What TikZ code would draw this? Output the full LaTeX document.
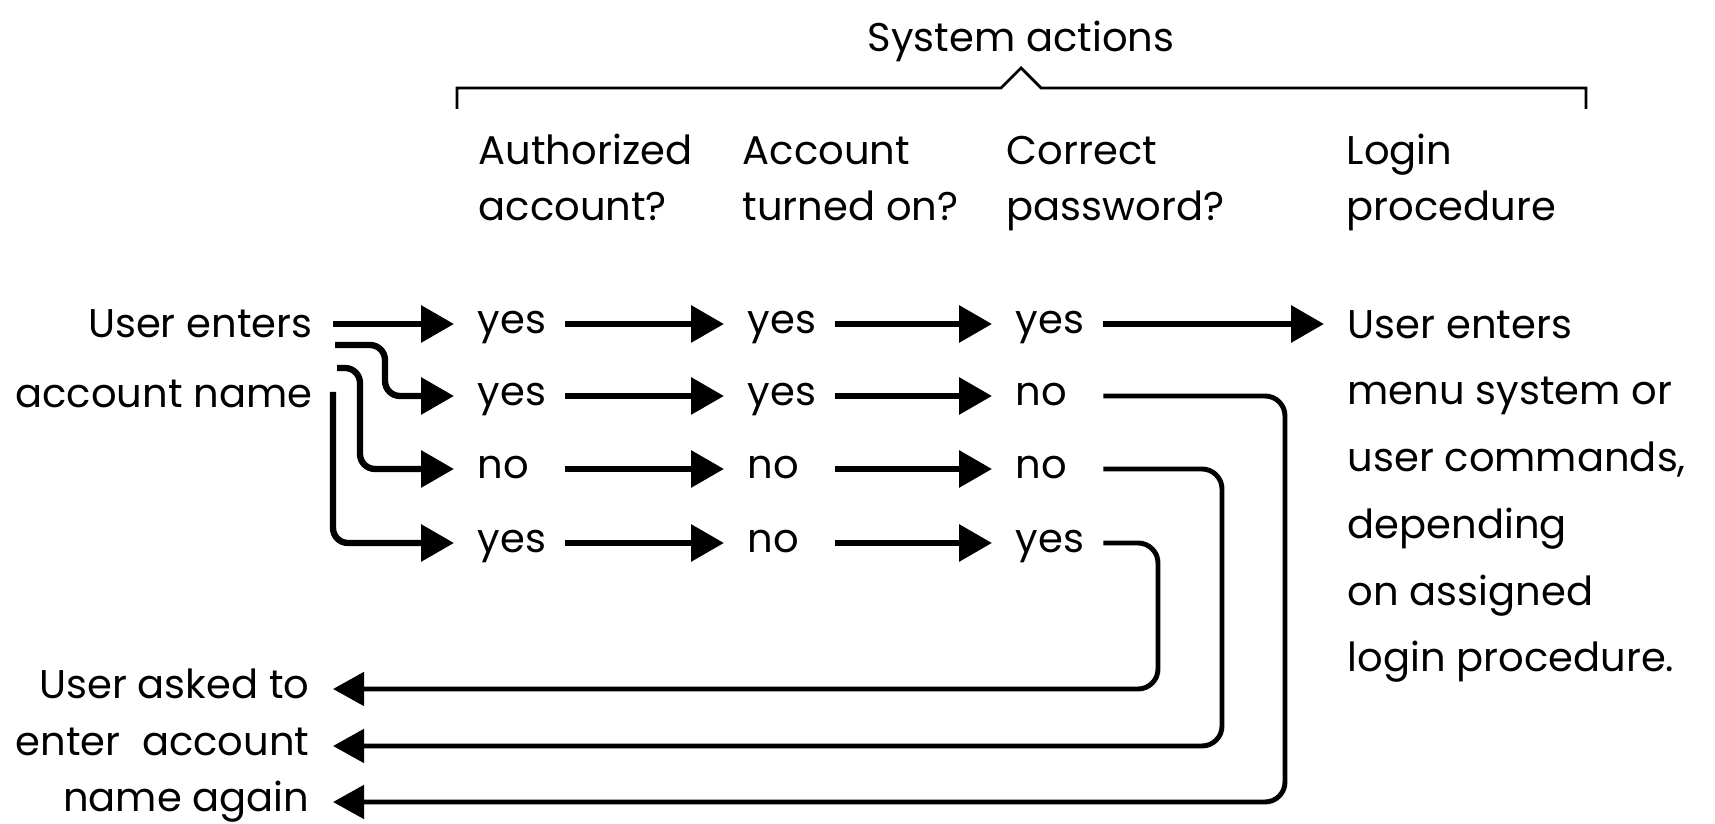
\documentclass[tikz,border=0pt]{standalone}
\usepackage{fontspec}
\setmainfont{Poppins}
\usetikzlibrary{arrows.meta}
\newcommand{\taillef}{\fontsize{11.4pt}{16pt}\selectfont}
\newcommand{\taillep}{\fontsize{11.4pt}{19pt}\selectfont}
\newcommand{\tailleu}{\fontsize{11.4pt}{20pt}\selectfont}

\begin{document}
\begin{tikzpicture}[
    val/.style={anchor=west,inner sep=0pt,text width=0.64cm,text height=1ex,text depth=0pt,font=\taillef},
    ask/.style={anchor=east,inner sep=0pt,text height=1ex,text depth=0pt,font=\taillef},
    hdr/.style={anchor=base west,align=left,inner sep=0pt,font=\taillef},
    flow/.style={-{Triangle[length=0.33cm,width=0.36cm]},line width=1.8pt,shorten <=0.23cm,shorten >=0.23cm},
    flowin/.style={-{Triangle[length=0.33cm,width=0.36cm]},line width=1.8pt,rounded corners=0.15cm,shorten >=0.23cm},
    back/.style={-{Triangle[length=0.31cm,width=0.33cm]},line width=1.4pt,rounded corners=0.2cm,shorten <=0.23cm,shorten >=0.23cm}]
        \useasboundingbox (0,0) rectangle (17.15,-8.24);
        \node[anchor=base,inner sep=0pt,font=\taillef] (sys) at (10.21,-0.52) {System actions};
        \draw[line width=0.8pt] (4.57,-1.09) -- (4.57,-0.88) -- (10.01,-0.88) -- (10.21,-0.68) -- (10.41,-0.88) -- (15.86,-0.88) -- (15.86,-1.09);
        \node[hdr] (hauth) at (4.78,-2.21) {Authorized\\account?};
        \node[hdr] (hon) at (7.42,-2.21) {Account\\turned on?};
        \node[hdr] (hpw) at (10.06,-2.21) {Correct\\password?};
        \node[hdr] (hlog) at (13.46,-2.21) {Login\\procedure};
        \node[anchor=base east,align=right,inner sep=0pt,font=\tailleu] (usr) at (3.13,-4.08) {User enters\\account name};
        \coordinate (s1) at (3.33,-3.24);
        \coordinate (s2) at (3.35,-3.45);
        \coordinate (s3) at (3.37,-3.68);
        \coordinate (s4) at (3.33,-3.92);
        \node[val] (auth1) at (4.77,-3.24) {yes};
        \draw[flowin] (s1) -- (auth1);
        \node[val] (auth2) at (4.77,-3.96) {yes};
        \draw[flowin] (s2) -- (3.85,-3.45) -- (3.85,-3.96) -- (auth2);
        \node[val] (auth3) at (4.77,-4.69) {no};
        \draw[flowin] (s3) -- (3.60,-3.68) -- (3.60,-4.69) -- (auth3);
        \node[val] (auth4) at (4.77,-5.43) {yes};
        \draw[flowin] (s4) -- (3.33,-5.43) -- (auth4);
        \node[val] (on1) at (7.47,-3.24) {yes};
        \draw[flow] (auth1) -- (on1);
        \node[val] (on2) at (7.47,-3.96) {yes};
        \draw[flow] (auth2) -- (on2);
        \node[val] (on3) at (7.47,-4.69) {no};
        \draw[flow] (auth3) -- (on3);
        \node[val] (on4) at (7.47,-5.43) {no};
        \draw[flow] (auth4) -- (on4);
        \node[val] (pw1) at (10.15,-3.24) {yes};
        \draw[flow] (on1) -- (pw1);
        \node[val] (pw2) at (10.15,-3.96) {no};
        \draw[flow] (on2) -- (pw2);
        \node[val] (pw3) at (10.15,-4.69) {no};
        \draw[flow] (on3) -- (pw3);
        \node[val] (pw4) at (10.15,-5.43) {yes};
        \draw[flow] (on4) -- (pw4);
        \node[anchor=base west,align=left,inner sep=0pt,font=\taillep] (menu) at (13.47,-6.72) {User enters\\menu system or\\user commands,\\depending\\on assigned\\login procedure.};
        \draw[flow] (pw1) -- (pw1 -| menu.west);
        \node[ask] (ask1) at (3.10,-6.89) {User asked to};
        \node[ask] (ask2) at (3.10,-7.46) {enter\ \ account};
        \node[ask] (ask3) at (3.10,-8.02) {name again};
        \draw[back] (pw4) -- (11.58,-5.43) -- (11.58,-6.89) -- (ask1);
        \draw[back] (pw3) -- (12.22,-4.69) -- (12.22,-7.46) -- (ask2);
        \draw[back] (pw2) -- (12.85,-3.96) -- (12.85,-8.02) -- (ask3);
      \end{tikzpicture}
\end{document}
